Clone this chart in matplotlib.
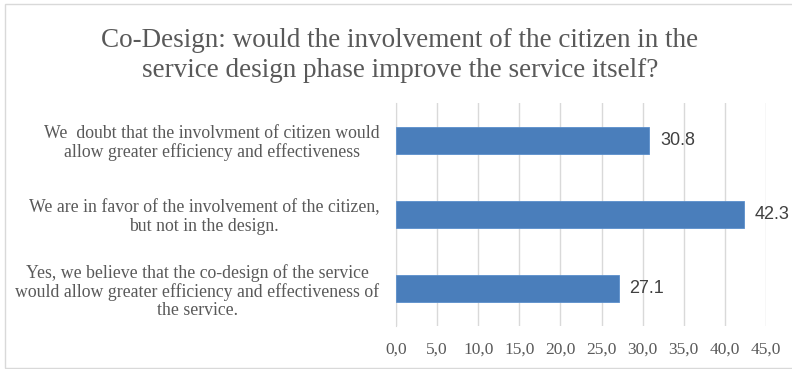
import matplotlib.pyplot as plt
from matplotlib.patches import Rectangle
from matplotlib.ticker import FuncFormatter

# survey answers, bottom to top as drawn
answers = [
    "Yes, we believe that the co-design of the service\nwould allow greater efficiency and effectiveness of\nthe service.",
    "We are in favor of the involvement of the citizen,\nbut not in the design.",
    "We  doubt that the involvment of citizen would\nallow greater efficiency and effectiveness",
]
shares = [27.1, 42.3, 30.8]
x_ticks = [0, 5, 10, 15, 20, 25, 30, 35, 40, 45]

title = "Co-Design: would the involvement of the citizen in the\nservice design phase improve the service itself?"

serif = ["Liberation Serif", "DejaVu Serif"]
grey = "#595959"

fig = plt.figure(figsize=(7.92, 3.69), dpi=100)
ax = fig.add_axes([0.5, 0.1165, 0.4672, 0.6044])

pos = range(len(answers))
ax.barh(pos, shares, height=0.36, color="#4a7ebb", edgecolor="#5b8fcc", linewidth=0.6, zorder=3)
ax.set_xlim(0, 45)
ax.set_ylim(-0.5, 2.5)
ax.set_xticks(x_ticks)
ax.xaxis.set_major_formatter(FuncFormatter(lambda v, p: f"{v:.1f}".replace(".", ",")))
ax.grid(axis="x", color="#d9d9d9", linewidth=1.0, zorder=0)
ax.tick_params(axis="x", length=0, pad=11, labelsize=12.5, labelcolor=grey)
ax.tick_params(axis="y", length=0, pad=12)
for lbl in ax.get_xticklabels():
    lbl.set_family(serif)

ax.set_yticks(list(pos))
ax.set_yticklabels(answers, fontsize=12.8, color=grey, family=serif, linespacing=1.1)
for lbl in ax.get_yticklabels():
    lbl.set_multialignment("center")

for s in ["top", "right", "bottom"]:
    ax.spines[s].set_visible(False)
ax.spines["left"].set_color("#d9d9d9")

for i, v in enumerate(shares):
    ax.text(v + 1.3, i, f"{v:.1f}", va="center", ha="left", fontsize=13,
            color="#404040", family=["Liberation Sans", "DejaVu Sans"])

fig.text(0.505, 0.85, title, ha="center", va="center", fontsize=19.5,
         color=grey, family=serif, linespacing=1.25)

fig.patches.append(Rectangle((5 / 792, 1 / 369), 790 / 792, 364 / 369, transform=fig.transFigure,
                             fill=False, edgecolor="#d9d9d9", linewidth=1.0))

fig.savefig("out.png", dpi=100)
